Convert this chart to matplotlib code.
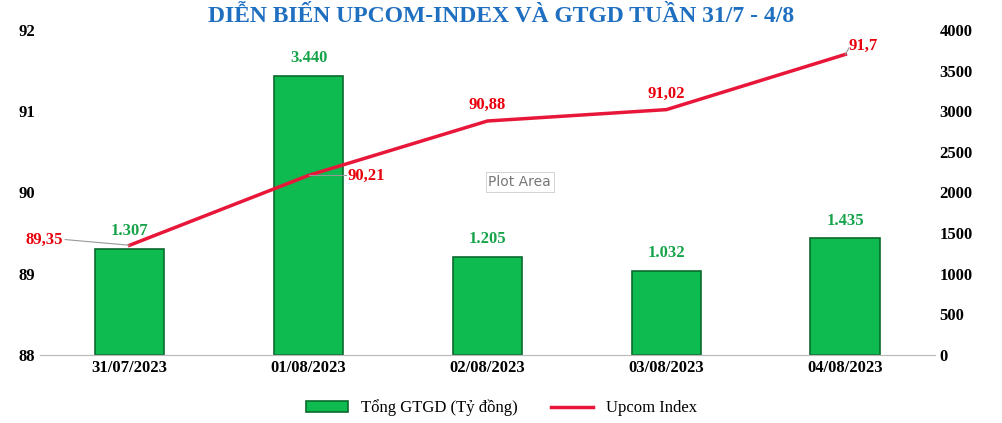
import matplotlib
matplotlib.use("Agg")
import matplotlib.pyplot as plt
import numpy as np

dates = ["31/07/2023", "01/08/2023", "02/08/2023", "03/08/2023", "04/08/2023"]
gtgd = [1307, 3440, 1205, 1032, 1435]
gtgd_labels = ["1.307", "3.440", "1.205", "1.032", "1.435"]
index_vals = [89.35, 90.21, 90.88, 91.02, 91.7]
index_labels = ["89,35", "90,21", "90,88", "91,02", "91,7"]

serif = "Liberation Serif"
fig = plt.figure(figsize=(10.03, 4.23), dpi=100)
ax = fig.add_axes([0.04, 0.161, 0.892, 0.768])
ax2 = ax.twinx()
x = np.arange(len(dates))

ax2.bar(x, gtgd, width=0.39, color="#0dbb50", edgecolor="#0a6a2c", linewidth=1.2,
        label="Tổng GTGD (Tỷ đồng)", zorder=1)
for xi, v, t in zip(x, gtgd, gtgd_labels):
    ax2.text(xi, v + 120, t, ha="center", va="bottom", color="#16a34a",
             fontsize=12, fontweight="bold", family=serif)
ax2.set_ylim(0, 4000)
ax2.set_yticks(range(0, 4001, 500))

ax.set_zorder(ax2.get_zorder() + 1)
ax.patch.set_visible(False)
ax.plot(x, index_vals, color="#e8173a", lw=2.5, label="Upcom Index")
ax.set_ylim(88, 92)
ax.set_yticks([88, 89, 90, 91, 92])
ax.set_xlim(-0.5, 4.5)
ax.set_xticks(x)
ax.set_xticklabels(dates, fontsize=12, fontweight="bold", family=serif)

offs = [(-0.37, 0.07, "right"), (0.22, 0.0, "left"), (0.0, 0.2, "center"),
        (0.0, 0.2, "center"), (0.02, 0.1, "left")]
for xi, v, t, (dx, dy, ha) in zip(x, index_vals, index_labels, offs):
    ax.text(xi + dx, v + dy, t, ha=ha, va="center", color="#e8000b",
            fontsize=12, fontweight="bold", family=serif)
ax.plot([0, -0.36], [89.35, 89.42], color="#999", lw=0.8)
ax.plot([1, 1.21], [90.21, 90.21], color="#999", lw=0.8)
ax.plot([4, 4.02], [91.7, 91.78], color="#999", lw=0.8)

for a in (ax, ax2):
    for s in ["top", "left", "right"]:
        a.spines[s].set_visible(False)
    a.spines["bottom"].set_color("#bbbbbb")
    a.tick_params(length=0, labelsize=12)
    for lab in a.get_yticklabels():
        lab.set_family(serif); lab.set_fontweight("bold")

ax.text(2.18, 90.13, "Plot Area", fontsize=10, color="#777", ha="center", va="center",
        bbox=dict(fc="white", ec="#cccccc", lw=0.6, pad=2))

fig.text(0.5, 0.96, "DIỄN BIẾN UPCOM-INDEX VÀ GTGD TUẦN 31/7 - 4/8", ha="center",
         va="center", fontsize=17, fontweight="bold", color="#1f6fc0", family=serif)

h1, l1 = ax2.get_legend_handles_labels()
h2, l2 = ax.get_legend_handles_labels()
fig.legend(h1 + h2, l1 + l2, loc="lower center", bbox_to_anchor=(0.5, -0.02), ncol=2,
           frameon=False, prop={"family": serif, "size": 12}, handlelength=2.5)
fig.savefig("out.png", dpi=100)
